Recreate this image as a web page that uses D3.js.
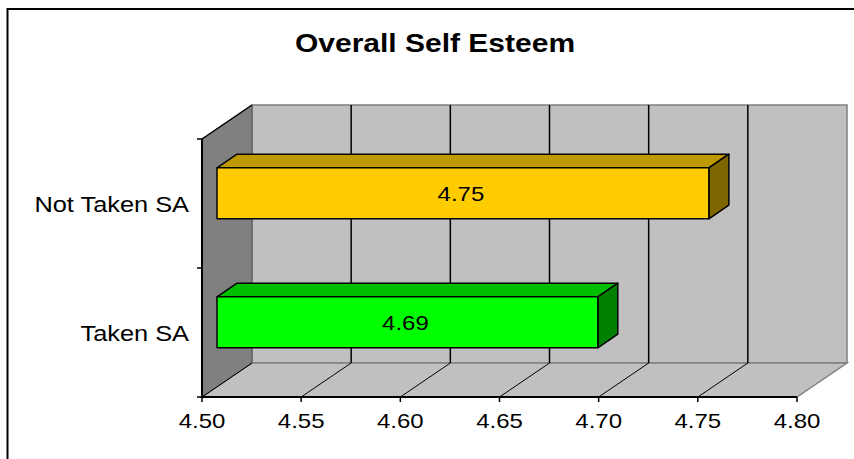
<!DOCTYPE html>
<html>
<head>
<meta charset="utf-8">
<script src="https://cdn.jsdelivr.net/npm/d3@7"></script>
<style>
  body { margin: 0; background: #fff; }
  svg { display: block; }
</style>
</head>
<body>
<div></div>
<script>
const width = 854, height = 459
const svg = d3.select("div")
    .append("svg")
    .attr("xmlns", "http://www.w3.org/2000/svg")
    .attr("width", width)
    .attr("height", height)

// data
const title = "Overall Self Esteem"
const categories = ["Not Taken SA", "Taken SA"]
const values = [4.748, 4.692]
const xTicks = [4.50, 4.55, 4.60, 4.65, 4.70, 4.75, 4.80]
const barColors = [
	{front: "#FFCC00", top: "#BF9900", side: "#806600"},
	{front: "#00FF00", top: "#00BF00", side: "#008000"}
]

// settings
const font = "'Liberation Sans', Arial, sans-serif"
const stretch = 1.2   // text in the original is stretched sideways
const depthX = 50, depthY = -34
const wallColor = "#C0C0C0"
const sideWallColor = "#808080"
const edgeColor = "#808080"

// scales (front plane of the 3d box)
const sx = d3.scaleLinear().domain([4.5, 4.8]).range([202, 797])
const sy = d3.scaleBand().domain(categories).range([139, 397])
const x0 = sx.range()[0], x1 = sx.range()[1]
const y0 = sy.range()[0], y1 = sy.range()[1]
// project a point with depth z in [0,1]
const P = (x, y, z) => [x + depthX*z, y + depthY*z]
const poly = pts => "M" + pts.map(p => p.join(",")).join("L") + "Z"
const line = d3.line()

/// 0. outer frame
svg.append("rect")
	.attr("x", 7.5).attr("y", 9)
	.attr("width", 900).attr("height", 500)
	.attr("fill", "#fff")
	.attr("stroke", "#000")
	.attr("stroke-width", 2)

/// 1. title
svg.append("text")
	.attr("transform", `translate(435,52) scale(${stretch},1)`)
	.attr("text-anchor", "middle")
	.attr("font-family", font)
	.attr("font-weight", "bold")
	.attr("font-size", 25)
	.attr("fill", "#000")
	.text(title)

/// 2. walls
// 2a. back wall
svg.append("path")
	.attr("d", poly([P(x0, y0, 1), P(x1, y0, 1), P(x1, y1, 1), P(x0, y1, 1)]))
	.attr("fill", wallColor)
	.attr("stroke", edgeColor)
	.attr("stroke-width", 1.5)
// 2b. floor
svg.append("path")
	.attr("d", poly([P(x0, y1, 0), P(x1, y1, 0), P(x1, y1, 1), P(x0, y1, 1)]))
	.attr("fill", wallColor)
	.attr("stroke", edgeColor)
	.attr("stroke-width", 1.5)
// 2c. side wall
svg.append("path")
	.attr("d", poly([P(x0, y0, 0), P(x0, y0, 1), P(x0, y1, 1), P(x0, y1, 0)]))
	.attr("fill", sideWallColor)
	.attr("stroke", "#555")
	.attr("stroke-width", 1)
svg.append("path")
	.attr("d", line([P(x0, y0, 0), P(x0, y0, 1)]))
	.attr("stroke", "#000")
	.attr("stroke-width", 1.5)

/// 3. gridlines (back wall + floor)
const inner = xTicks.slice(1, -1)
svg.selectAll().data(inner).enter().append("path")
	.attr("d", d => line([P(sx(d), y0, 1), P(sx(d), y1, 1)]))
	.attr("stroke", "#000")
	.attr("stroke-width", 1.5)
svg.selectAll().data(xTicks.slice(0, -1)).enter().append("path")
	.attr("d", d => line([P(sx(d), y1, 0), P(sx(d), y1, 1)]))
	.attr("stroke", "#000")
	.attr("stroke-width", 1)

/// 4. axes
// 4a. value axis line + ticks
svg.append("path")
	.attr("d", line([[x0, y1], [x1, y1]]))
	.attr("stroke", "#000")
	.attr("stroke-width", 2)
svg.selectAll().data(xTicks).enter().append("path")
	.attr("d", d => line([[sx(d), y1], [sx(d), y1 + 5]]))
	.attr("stroke", "#000")
	.attr("stroke-width", 1.5)
svg.selectAll().data(xTicks).enter().append("text")
	.attr("transform", d => `translate(${sx(d)},428) scale(${stretch},1)`)
	.attr("text-anchor", "middle")
	.attr("font-family", font)
	.attr("font-size", 20)
	.attr("fill", "#000")
	.text(d => d3.format(".2f")(d))
// 4b. category axis line + ticks
svg.append("path")
	.attr("d", line([[x0, y0], [x0, y1]]))
	.attr("stroke", "#000")
	.attr("stroke-width", 2)
svg.selectAll().data([y0, y0 + sy.step(), y1]).enter().append("path")
	.attr("d", d => line([[x0 - 5, d], [x0, d]]))
	.attr("stroke", "#000")
	.attr("stroke-width", 1.5)
svg.selectAll().data(categories).enter().append("text")
	.attr("transform", d => `translate(189,${sy(d) + sy.bandwidth()/2 + 8}) scale(1.18,1)`)
	.attr("text-anchor", "end")
	.attr("font-family", font)
	.attr("font-size", 21.5)
	.attr("fill", "#000")
	.text(d => d)

/// 5. bars
const barHalf = 25.5
const zFront = 0.3, zBack = 0.7
const bars = categories.map((c, i) => {
	const cy = sy(c) + sy.bandwidth()/2
	return {c, v: values[i], col: barColors[i], top: cy - barHalf, bot: cy + barHalf}
})
const g = svg.selectAll().data(bars).enter().append("g")
	.attr("stroke", "#000")
	.attr("stroke-width", 1.5)
	.attr("stroke-linejoin", "round")
// 5a. top face
g.append("path")
	.attr("d", d => poly([P(x0, d.top, zFront), P(sx(d.v), d.top, zFront), P(sx(d.v), d.top, zBack), P(x0, d.top, zBack)]))
	.attr("fill", d => d.col.top)
// 5b. side face
g.append("path")
	.attr("d", d => poly([P(sx(d.v), d.top, zFront), P(sx(d.v), d.top, zBack), P(sx(d.v), d.bot, zBack), P(sx(d.v), d.bot, zFront)]))
	.attr("fill", d => d.col.side)
// 5c. front face
g.append("path")
	.attr("d", d => poly([P(x0, d.top, zFront), P(sx(d.v), d.top, zFront), P(sx(d.v), d.bot, zFront), P(x0, d.bot, zFront)]))
	.attr("fill", d => d.col.front)
// 5d. value labels
svg.selectAll().data(bars).enter().append("text")
	.attr("transform", d => {
		const p = P((x0 + sx(d.v))/2, (d.top + d.bot)/2 + 7.5, zFront)
		return `translate(${p[0] - 2},${p[1]}) scale(${stretch},1)`
	})
	.attr("text-anchor", "middle")
	.attr("font-family", font)
	.attr("font-size", 20)
	.attr("fill", "#000")
	.text(d => d3.format(".2f")(d.v))
</script>
</body>
</html>
